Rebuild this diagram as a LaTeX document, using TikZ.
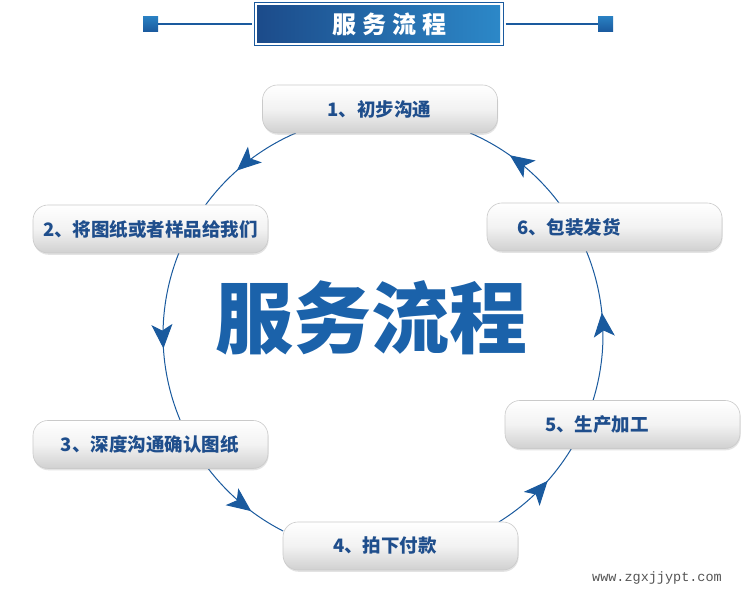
\documentclass[tikz,border=0pt]{standalone}
\usepackage{fontspec}
\newfontfamily\cjk{Noto Sans CJK SC}
\newfontfamily\cjkwide{Noto Sans CJK SC}[LetterSpace=25]
\setmonofont{Liberation Mono}
\usetikzlibrary{arrows.meta,decorations.markings,shadows}
\definecolor{lineblue}{HTML}{1A5A9E}
\definecolor{txtblue}{HTML}{1F4E8C}
\definecolor{bigblue}{HTML}{1B62AA}
\definecolor{hdrdark}{HTML}{1C4B8A}
\definecolor{hdrlight}{HTML}{2C88C8}
\definecolor{sqtop}{HTML}{2A80C2}
\definecolor{sqbot}{HTML}{1A5A9E}
\definecolor{boxborder}{HTML}{CACACA}
\definecolor{boxbottom}{HTML}{D0D0D0}
\definecolor{wmgray}{HTML}{555555}
\begin{document}
\begin{tikzpicture}[x=1pt,y=1pt,
  stepbox/.style={rounded corners=15pt, minimum width=235pt, minimum height=48pt,
    inner xsep=0pt, inner ysep=0pt, text width=235pt, align=left,
    top color=white, bottom color=boxbottom, middle color=black!5,
    draw=boxborder, line width=0.6pt,
    drop shadow={shadow xshift=0.6pt, shadow yshift=-1.8pt, opacity=0.22},
    font=\cjk\bfseries\fontsize{18.5}{20}\selectfont, text=txtblue},
  flow/.style={draw=lineblue, line width=1pt, postaction={decorate},
    decoration={markings, mark=at position #1 with {\arrow{Stealth[length=24pt,width=21pt,inset=6pt]}}}},
  hdrframe/.style={minimum width=249pt, minimum height=43pt, inner sep=0pt,
    draw=lineblue, line width=1pt, fill=white},
  hdrfill/.style={minimum width=243pt, minimum height=37pt, inner sep=0pt,
    left color=hdrdark, right color=hdrlight, text=white,
    font=\cjkwide\bfseries\fontsize{24}{26}\selectfont},
  sqbox/.style={minimum size=15pt, inner sep=0pt, top color=sqtop, bottom color=sqbot},
  hline/.style={draw=lineblue, line width=1.2pt},
  bigtitle/.style={text=bigblue, inner sep=0pt, font=\cjk\bfseries\fontsize{78}{80}\selectfont},
  wm/.style={text=wmgray, inner sep=0pt, font=\ttfamily\fontsize{13.5}{14}\selectfont}
]
\useasboundingbox (0,0) rectangle (750,600);
\fill[white] (0,0) rectangle (750,600);

% header
\node[hdrframe] (hdr) at (378.5,576) {};
\node[hdrfill] (hdrtitle) at (hdr) {\hspace*{22pt}服务流程};
\node[sqbox] (sqL) at (150.5,576) {};
\node[sqbox] (sqR) at (605.5,576) {};
\draw[hline, shorten >=2pt] (sqL) -- (hdr);
\draw[hline, shorten <=2pt] (hdr) -- (sqR);

% circle arcs
\coordinate (O) at (383,265);
\path (O) ++(113.3:220) coordinate (s12);
\path (O) ++(158.1:220) coordinate (s23);
\path (O) ++(217.2:220) coordinate (s34);
\path (O) ++(301.8:220) coordinate (s45);
\path (O) ++(342.8:220) coordinate (s56);
\path (O) ++(36.9:220) coordinate (s61);
\draw[flow=0.60] (s12) arc[start angle=113.3, end angle=143.8, radius=220];
\draw[flow=0.57] (s23) arc[start angle=158.1, end angle=202.7, radius=220];
\draw[flow=0.62] (s34) arc[start angle=217.2, end angle=243.0, radius=220];
\draw[flow=0.61] (s45) arc[start angle=301.8, end angle=329.1, radius=220];
\draw[flow=0.58] (s56) arc[start angle=342.8, end angle=382.5, radius=220];
\draw[flow=0.60] (s61) arc[start angle=36.9, end angle=66.7, radius=220];

% boxes
\node[stepbox] (b1) at (380,491)   {\hspace*{65pt}1、初步沟通};
\node[stepbox] (b2) at (150.5,371) {\hspace*{10pt}2、将图纸或者样品给我们};
\node[stepbox] (b6) at (604.5,373) {\hspace*{30pt}6、包装发货};
\node[stepbox] (b3) at (150.5,155.5) {\hspace*{28pt}3、深度沟通确认图纸};
\node[stepbox] (b5) at (622.5,175.5) {\hspace*{40pt}5、生产加工};
\node[stepbox] (b4) at (400.5,54)  {\hspace*{50pt}4、拍下付款};

% big title
\node[bigtitle] (title) at (371,282) {服务流程};

% watermark
\node[wm] (wmark) at (657,22) {www.zgxjjypt.com};
\end{tikzpicture}
\end{document}
